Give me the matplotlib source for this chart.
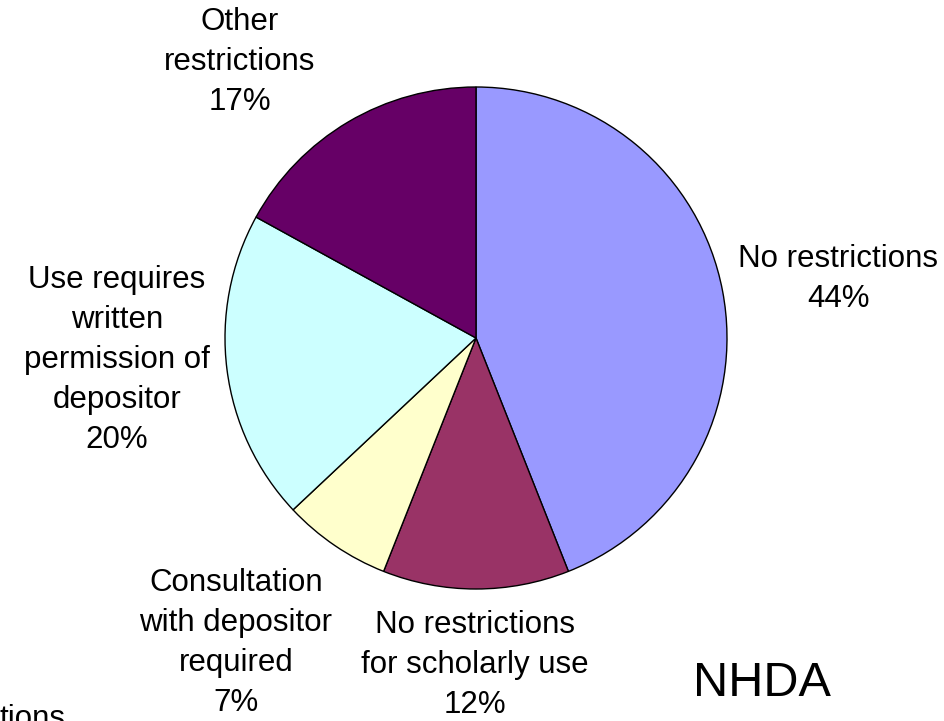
import matplotlib
matplotlib.use("Agg")
import matplotlib.pyplot as plt

# data
labels = ["No restrictions", "No restrictions\nfor scholarly use",
          "Consultation\nwith depositor\nrequired",
          "Use requires\nwritten\npermission of\ndepositor",
          "Other\nrestrictions"]
shares = [44, 12, 7, 20, 17]
colors = ["#9999FF", "#993366", "#FFFFCC", "#CCFFFF", "#660066"]
# label centres in image pixels (x, y from top)
label_pos = [(838, 279), (475, 665), (236, 643), (117, 360), (240, 62)]

W, H = 945, 721
plt.rcParams['font.family'] = ['Liberation Sans', 'DejaVu Sans']
fig = plt.figure(figsize=(W / 100, H / 100), dpi=100)
ax = fig.add_axes([0, 0, 1, 1])

ax.pie(shares, colors=colors, startangle=90, counterclock=False,
       center=(476, H - 338), radius=251, frame=True,
       wedgeprops=dict(edgecolor='black', linewidth=1))
ax.set_xlim(0, W)
ax.set_ylim(0, H)
ax.set_aspect('equal')
ax.axis('off')

for lab, v, (x, y) in zip(labels, shares, label_pos):
    ax.text(x, H - y, f"{lab}\n{v}%", ha='center', va='center',
            fontsize=22.5, linespacing=1.43, color='black')

ax.text(762, H - 683, "NHDA", ha='center', va='center', fontsize=35)
ax.text(65, H - 727, "tions", ha='right', va='baseline', fontsize=22.5)

fig.savefig("out.png", dpi=100)
